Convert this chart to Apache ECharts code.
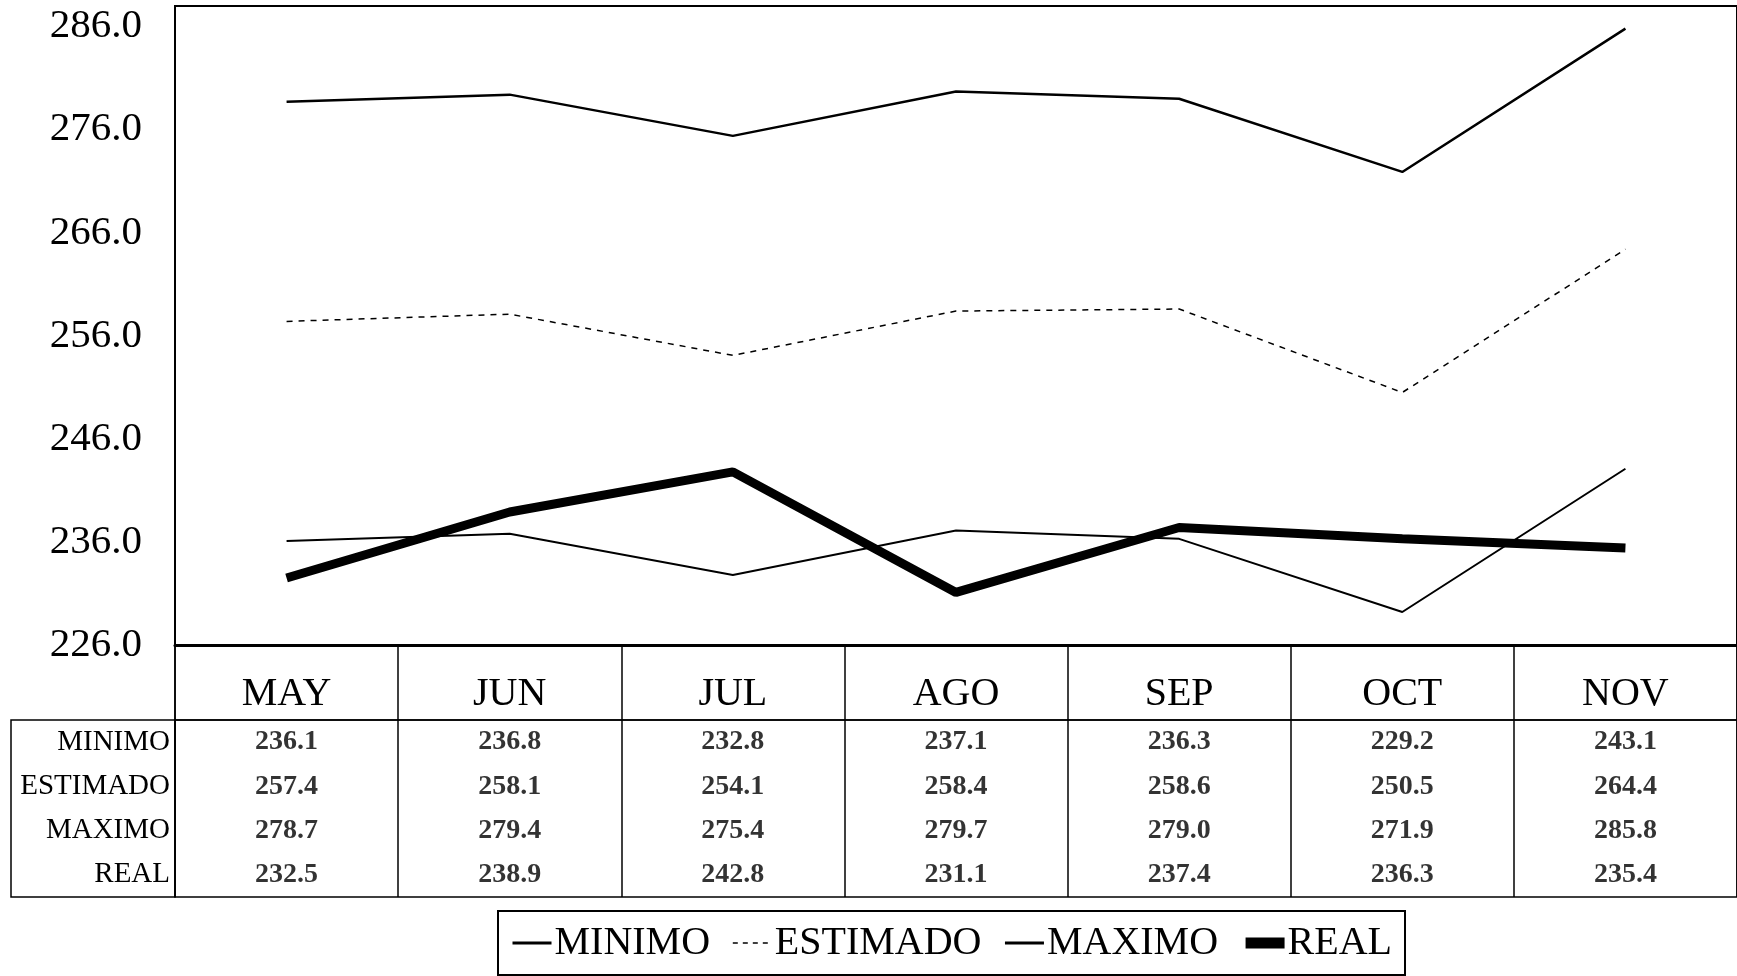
<!DOCTYPE html>
<html>
<head>
<meta charset="utf-8">
<script src="https://cdn.jsdelivr.net/npm/echarts@6/dist/echarts.min.js"></script>
<style>
html,body{margin:0;padding:0;background:#fff;}
#chart{width:1737px;height:976px;}
</style>
</head>
<body>
<div id="chart"></div>
<script>
const categories = ['MAY','JUN','JUL','AGO','SEP','OCT','NOV'];
const rowNames = ['MINIMO','ESTIMADO','MAXIMO','REAL'];
const minimo   = [236.1,236.8,232.8,237.1,236.3,229.2,243.1];
const estimado = [257.4,258.1,254.1,258.4,258.6,250.5,264.4];
const maximo   = [278.7,279.4,275.4,279.7,279.0,271.9,285.8];
const real     = [232.5,238.9,242.8,231.1,237.4,236.3,235.4];
const yMin = 226, yMax = 288, yLabelStep = 10;

const FONT = 'Liberation Serif';
const chart = echarts.init(document.getElementById('chart'), null, {renderer:'canvas'});

const tableRows = [minimo, estimado, maximo, real];
const tableSeries = tableRows.map((arr, r) => ({
  name: 'tbl-' + rowNames[r],
  type: 'scatter',
  xAxisIndex: 1, yAxisIndex: 1,
  symbolSize: 1,
  itemStyle: {color: 'rgba(0,0,0,0)'},
  silent: true,
  label: {
    show: true, position: 'inside',
    fontFamily: FONT, fontSize: 28, fontWeight: 'bold', color: '#000',
    formatter: p => p.value[2].toFixed(1)
  },
  data: arr.map((v, i) => [categories[i], rowNames[r], v])
}));

const lineStyles = {
  MINIMO:   {color: '#000', width: 2},
  ESTIMADO: {color: '#000', width: 1.5, type: [6, 6]},
  MAXIMO:   {color: '#000', width: 2.5},
  REAL:     {color: '#000', width: 9}
};
const legendLine = {
  MINIMO:   {color: '#000', width: 3},
  ESTIMADO: {color: '#000', width: 1.5, type: [5, 5]},
  MAXIMO:   {color: '#000', width: 3},
  REAL:     {color: '#000', width: 11}
};

const option = {
  animation: false,
  backgroundColor: '#fff',
  legend: {
    data: rowNames.map(n => ({name: n, lineStyle: legendLine[n], itemStyle: {opacity: 0}})),
    left: 498, top: 911,
    padding: [12, 13],
    itemGap: 22,
    itemWidth: 39, itemHeight: 14,
    borderColor: '#000', borderWidth: 2,
    itemStyle: {opacity: 0},
    textStyle: {fontFamily: FONT, fontSize: 40, color: '#000', padding: [0,0,0,-2]}
  },
  grid: [
    {left: 175, right: -3, top: 6, height: 639, show: true, borderColor: '#000', borderWidth: 2},
    {left: 175, right: -3, top: 720, height: 177, show: true, borderColor: '#000', borderWidth: 1.5},
    {left: 11, width: 164, top: 720, height: 177, show: true, borderColor: '#000', borderWidth: 1.5},
    {left: 175, right: -3, top: 645, height: 75, show: true, borderColor: '#000', borderWidth: 1.5}
  ],
  xAxis: [
    {gridIndex: 0, type: 'category', data: categories, boundaryGap: true,
     axisLine: {show: true, lineStyle: {color: '#000', width: 3}},
     axisTick: {show: false},
     axisLabel: {show: true, margin: 29, fontFamily: FONT, fontSize: 40, color: '#000'}},
    {gridIndex: 1, type: 'category', data: categories, boundaryGap: true,
     axisLine: {show: false}, axisTick: {show: false}, axisLabel: {show: false},
     splitLine: {show: true, lineStyle: {color: '#000', width: 1.5}}},
    {gridIndex: 2, type: 'value', show: false},
    {gridIndex: 3, type: 'category', data: categories, boundaryGap: true,
     axisLine: {show: false}, axisTick: {show: false}, axisLabel: {show: false},
     splitLine: {show: true, lineStyle: {color: '#000', width: 1.5}}}
  ],
  yAxis: [
    {gridIndex: 0, type: 'value', min: yMin, max: yMax, interval: 2,
     axisLine: {show: false}, axisTick: {show: false}, splitLine: {show: false},
     axisLabel: {margin: 33, fontFamily: FONT, fontSize: 41, color: '#000',
       formatter: v => (Math.round(v - yMin) % yLabelStep === 0 ? Number(v).toFixed(1) : '')}},
    {gridIndex: 1, type: 'category', data: rowNames, inverse: true,
     axisLine: {show: false}, axisTick: {show: false}, splitLine: {show: false},
     axisLabel: {margin: 5, fontFamily: FONT, fontSize: 29, color: '#000'}},
    {gridIndex: 2, type: 'value', show: false},
    {gridIndex: 3, type: 'value', show: false}
  ],
  series: rowNames.map((n, k) => ({
    name: n, type: 'line', data: [minimo, estimado, maximo, real][k], symbol: 'none',
    lineStyle: lineStyles[n], itemStyle: {color: '#000'}
  })).concat(tableSeries)
};
chart.setOption(option);
</script>
</body>
</html>
